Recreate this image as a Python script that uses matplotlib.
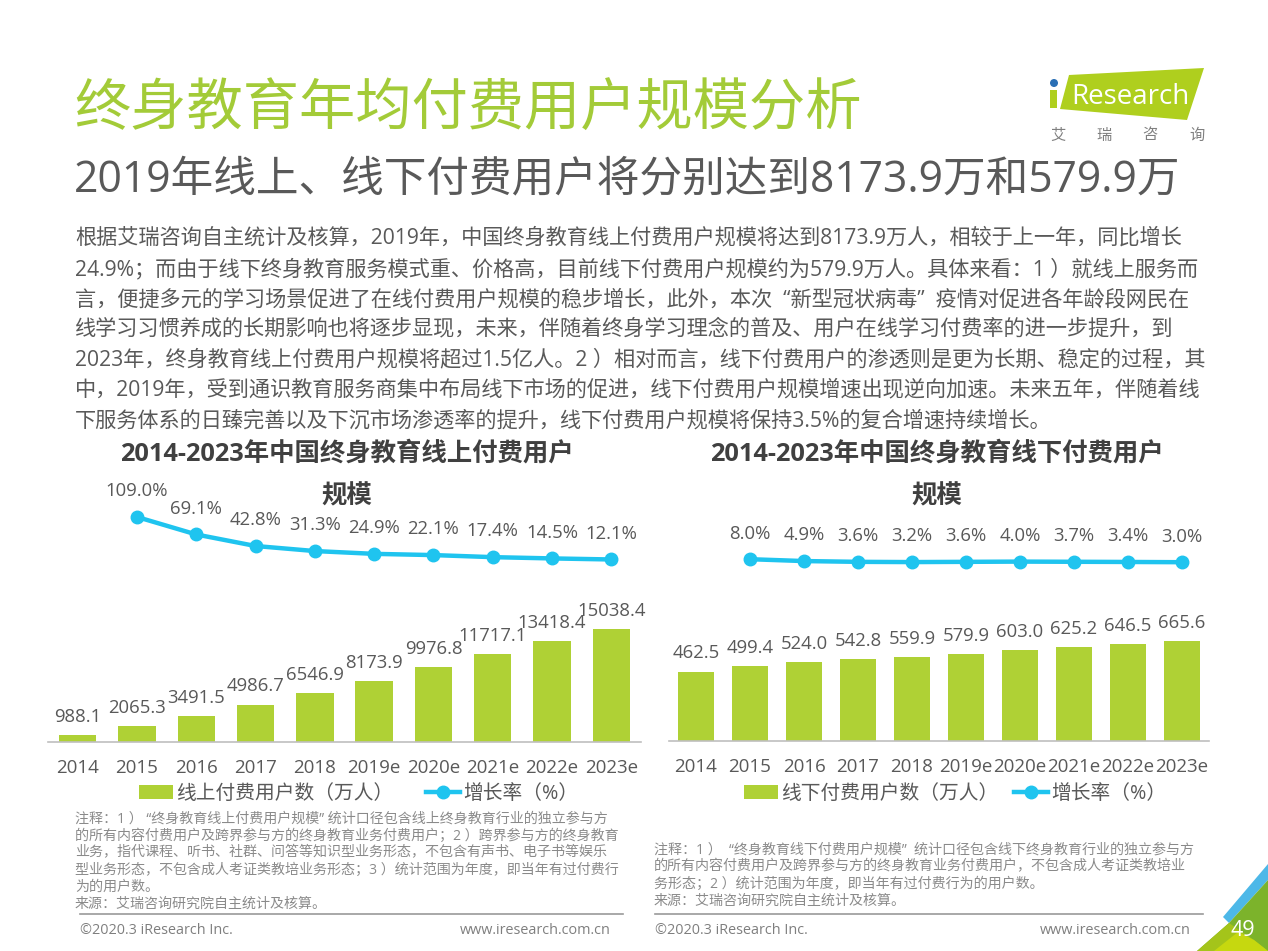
import matplotlib
matplotlib.use('Agg')
import matplotlib.pyplot as plt
from matplotlib.patches import Polygon, Circle, Rectangle

plt.rcParams['font.family'] = ['Open Sans', 'Noto Sans CJK SC', 'DejaVu Sans']

# data
tahun = ['2014', '2015', '2016', '2017', '2018', '2019e', '2020e', '2021e', '2022e', '2023e']
online_users = [988.1, 2065.3, 3491.5, 4986.7, 6546.9, 8173.9, 9976.8, 11717.1, 13418.4, 15038.4]
online_rate = [109.0, 69.1, 42.8, 31.3, 24.9, 22.1, 17.4, 14.5, 12.1]
offline_users = [462.5, 499.4, 524.0, 542.8, 559.9, 579.9, 603.0, 625.2, 646.5, 665.6]
offline_rate = [8.0, 4.9, 3.6, 3.2, 3.6, 4.0, 3.7, 3.4, 3.0]

title = '终身教育年均付费用户规模分析'
subtitle = '2019年线上、线下付费用户将分别达到8173.9万和579.9万'
body = [
    '根据艾瑞咨询自主统计及核算，2019年，中国终身教育线上付费用户规模将达到8173.9万人，相较于上一年，同比增长',
    '24.9%；而由于线下终身教育服务模式重、价格高，目前线下付费用户规模约为579.9万人。具体来看：1 ）就线上服务而',
    '言，便捷多元的学习场景促进了在线付费用户规模的稳步增长，此外，本次  “新型冠状病毒”  疫情对促进各年龄段网民在',
    '线学习习惯养成的长期影响也将逐步显现，未来，伴随着终身学习理念的普及、用户在线学习付费率的进一步提升，到',
    '2023年，终身教育线上付费用户规模将超过1.5亿人。2 ）相对而言，线下付费用户的渗透则是更为长期、稳定的过程，其',
    '中，2019年，受到通识教育服务商集中布局线下市场的促进，线下付费用户规模增速出现逆向加速。未来五年，伴随着线',
    '下服务体系的日臻完善以及下沉市场渗透率的提升，线下付费用户规模将保持3.5%的复合增速持续增长。',
]
notes_left = [
    '注释：1 ） “终身教育线上付费用户规模” 统计口径包含线上终身教育行业的独立参与方',
    '的所有内容付费用户及跨界参与方的终身教育业务付费用户；2 ）跨界参与方的终身教育',
    '业务，指代课程、听书、社群、问答等知识型业务形态，不包含有声书、电子书等娱乐',
    '型业务形态，不包含成人考证类教培业务形态；3 ）统计范围为年度，即当年有过付费行',
    '为的用户数。',
    '来源：艾瑞咨询研究院自主统计及核算。',
]
notes_right = [
    '注释：1 ）  “终身教育线下付费用户规模”  统计口径包含线下终身教育行业的独立参与方',
    '的所有内容付费用户及跨界参与方的终身教育业务付费用户，不包含成人考证类教培业',
    '务形态；2 ）统计范围为年度，即当年有过付费行为的用户数。',
    '来源：艾瑞咨询研究院自主统计及核算。',
]

W, H = 1268, 951
GREEN = '#afd135'
BLUE = '#1fc4ef'
DARK = '#595959'
NOTE = '#8a8a8a'

fig = plt.figure(figsize=(12.68, 9.51), dpi=100)

# kanvas dalam koordinat piksel untuk teks dan hiasan
bg = fig.add_axes([0, 0, 1, 1])
bg.set_xlim(0, W)
bg.set_ylim(H, 0)
bg.axis('off')


def px_axes(x0, x1, y_top, y_bottom):
    a = fig.add_axes([x0 / W, 1 - y_bottom / H, (x1 - x0) / W, (y_bottom - y_top) / H])
    a.patch.set_alpha(0)
    return a


def draw_chart(x0, x1, base, users, rate, bar_max, r_low, r_high, name, legend_x, bar_w, col_space):
    x = list(range(len(users)))
    ax1 = px_axes(x0, x1, 600, base)
    bars = ax1.bar(x, users, bar_w, color=GREEN, label=name)
    ax1.set_xlim(-0.5, 9.5)
    ax1.set_ylim(0, bar_max)
    ax1.set_yticks([])
    ax1.set_xticks(x)
    ax1.set_xticklabels(tahun)
    ax1.tick_params(axis='x', length=0, labelsize=13.5, labelcolor=DARK, pad=12)
    for s in ['top', 'left', 'right']:
        ax1.spines[s].set_visible(False)
    ax1.spines['bottom'].set_color('#bfbfbf')
    ax1.spines['bottom'].set_linewidth(1.2)
    for i, v in enumerate(users):
        ax1.annotate('{:.1f}'.format(v), (i, v), xytext=(0, 13), textcoords='offset points',
                     ha='center', va='center', fontsize=13.3, color=DARK)

    ax2 = px_axes(x0, x1, 500, 570)
    ax2.axis('off')
    ax2.set_xlim(-0.5, 9.5)
    ax2.set_ylim(r_low, r_high)
    line, = ax2.plot(x[1:], rate, color=BLUE, lw=3.2, marker='o', ms=9, label='增长率（%）')
    for i, v in zip(x[1:], rate):
        ax2.annotate('{:.1f}%'.format(v), (i, v), xytext=(0, 18.5), textcoords='offset points',
                     ha='center', va='center', fontsize=13.3, color=DARK, annotation_clip=False)

    fig.legend(handles=[bars, line], loc='center left',
               bbox_to_anchor=(legend_x / W, 1 - 794 / H), ncol=2, frameon=False,
               fontsize=14.2, labelcolor=DARK, handlelength=1.72, handletextpad=0.15,
               columnspacing=col_space, borderpad=0, borderaxespad=0)


draw_chart(48, 641, 742, online_users, online_rate, 18900, -11.9, 147.7, '线上付费用户数（万人）', 139, 0.63, 1.66)
draw_chart(669, 1209, 741, offline_users, offline_rate, 939, -10, 106.7, '线下付费用户数（万人）', 744, 0.66, 0.8)

# judul
bg.text(74, 111, title, fontsize=40.5, color='#a3cb38', va='center', ha='left')
bg.text(74, 180, subtitle, fontsize=30.7, color='#595959', va='center', ha='left')

body_y = [238, 269, 300, 329, 360, 390, 421]
for y, t in zip(body_y, body):
    bg.text(75, y, t, fontsize=15.25, color='#595959', va='center', ha='left')

bg.text(347, 454, '2014-2023年中国终身教育线上付费用户', fontsize=18.3, fontweight='bold', color='#404040', ha='center', va='center')
bg.text(347, 497, '规模', fontsize=18.3, fontweight='bold', color='#404040', ha='center', va='center')
bg.text(937, 454, '2014-2023年中国终身教育线下付费用户', fontsize=18.3, fontweight='bold', color='#404040', ha='center', va='center')
bg.text(937, 497, '规模', fontsize=18.3, fontweight='bold', color='#404040', ha='center', va='center')

# catatan
for i, t in enumerate(notes_left):
    bg.text(75, 819 + i * 17, t, fontsize=10.1, color=NOTE, va='center', ha='left')
for i, t in enumerate(notes_right):
    bg.text(654, 850 + i * 17.2, t, fontsize=10.1, color=NOTE, va='center', ha='left')

# footer
bg.plot([80, 623], [914, 914], color='#9a9a9a', lw=1.2)
bg.plot([655, 1203], [914, 914], color='#9a9a9a', lw=1.2)
bg.text(80, 930, '©2020.3 iResearch Inc.', fontsize=10.4, color='#7f7f7f', va='center')
bg.text(611, 930, 'www.iresearch.com.cn', fontsize=10.4, color='#7f7f7f', va='center', ha='right')
bg.text(655, 930, '©2020.3 iResearch Inc.', fontsize=10.4, color='#7f7f7f', va='center')
bg.text(1191, 930, 'www.iresearch.com.cn', fontsize=10.4, color='#7f7f7f', va='center', ha='right')

# logo
bg.add_patch(Polygon([(1069, 75), (1204, 68), (1187, 120), (1060, 109)], color='#afcf1e', lw=0))
bg.add_patch(Rectangle((1050, 90), 7, 18, color='#afcf1e', lw=0))
bg.add_patch(Circle((1054, 83), 4, color='#2a6fb5', lw=0))
bg.text(1071, 97, 'Research', fontsize=20, color='white', va='center', ha='left')
for xx, ch in zip([1058, 1104, 1150, 1197], '艾瑞咨询'):
    bg.text(xx, 136, ch, fontsize=11, color='#7f7f7f', ha='center', va='center')

# hiasan sudut kanan bawah
bg.add_patch(Polygon([(1223, 917), (1268, 864), (1268, 880), (1229, 923)], color='#4db8e8', lw=0))
bg.add_patch(Polygon([(1197, 951), (1229, 923), (1268, 880), (1268, 951)], color='#7cb32b', lw=0))
bg.add_patch(Polygon([(1197, 951), (1229, 923), (1254, 940), (1268, 951)], color='#a4c41a', lw=0))
bg.add_patch(Polygon([(1214, 951), (1238, 932), (1254, 940), (1268, 951)], color='#c6d80f', lw=0))
bg.text(1243, 931, '49', fontsize=15.5, color='white', ha='center', va='center')

plt.savefig('out.png', dpi=100)
